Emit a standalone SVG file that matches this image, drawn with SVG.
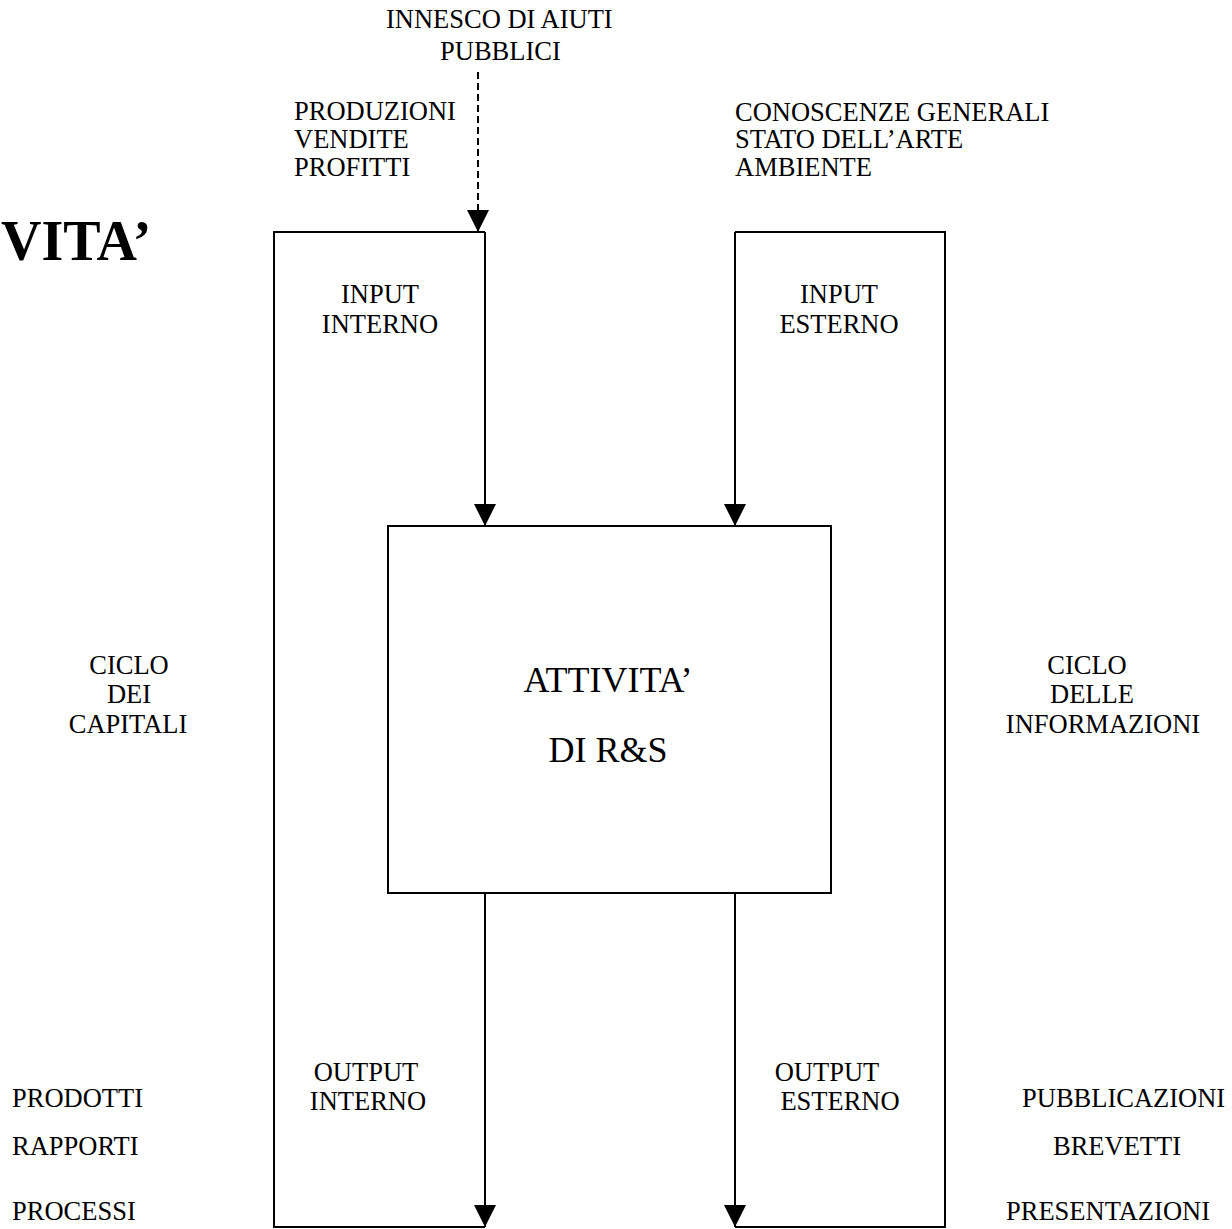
<svg xmlns="http://www.w3.org/2000/svg" width="1232" height="1229" viewBox="0 0 1232 1229">
<style>
text{font-family:"Liberation Serif","Times New Roman",serif;font-size:26.5px;fill:#000}
.big{font-size:36px}
.title{font-size:56px;font-weight:bold}
.ln{fill:none;stroke:#000;stroke-width:2}
.dash{stroke-dasharray:7,4}
</style>
<defs>
<marker id="ah" markerUnits="userSpaceOnUse" markerWidth="22" markerHeight="22" viewBox="0 0 20 20" refX="20" refY="10" orient="auto">
<path d="M0,0 L20,10 L0,20 Z" fill="#000"/>
</marker>
</defs>
<rect width="1232" height="1229" fill="#fff"/>
<text class="title" x="1" y="260">VITA’</text>
<g id="connectors">
<polyline class="ln" points="485,232 274,232 274,1227 485,1227"/>
<polyline class="ln" points="735,232 945,232 945,1227 735,1227"/>
<line class="ln dash" x1="478" y1="72" x2="478" y2="232" marker-end="url(#ah)"/>
<line class="ln" x1="485" y1="232" x2="485" y2="526" marker-end="url(#ah)"/>
<line class="ln" x1="735" y1="232" x2="735" y2="526" marker-end="url(#ah)"/>
<line class="ln" x1="485" y1="893" x2="485" y2="1227" marker-end="url(#ah)"/>
<line class="ln" x1="735" y1="893" x2="735" y2="1227" marker-end="url(#ah)"/>
</g>
<g id="rs-box">
<rect class="ln" x="388" y="526" width="443" height="367"/>
<text class="big" x="608" y="692" text-anchor="middle">ATTIVITA’</text>
<text class="big" x="608" y="762" text-anchor="middle">DI R&amp;S</text>
</g>
<g id="innesco">
<text x="386" y="28">INNESCO DI AIUTI</text>
<text x="440" y="60">PUBBLICI</text>
</g>
<g id="produzioni">
<text x="294" y="120">PRODUZIONI</text>
<text x="294" y="148">VENDITE</text>
<text x="294" y="176">PROFITTI</text>
</g>
<g id="conoscenze">
<text x="735" y="121">CONOSCENZE GENERALI</text>
<text x="735" y="148">STATO DELL’ARTE</text>
<text x="735" y="176">AMBIENTE</text>
</g>
<g id="input-interno">
<text x="380" y="303" text-anchor="middle">INPUT</text>
<text x="380" y="333" text-anchor="middle">INTERNO</text>
</g>
<g id="input-esterno">
<text x="839" y="303" text-anchor="middle">INPUT</text>
<text x="839" y="333" text-anchor="middle">ESTERNO</text>
</g>
<g id="ciclo-capitali">
<text x="129" y="674" text-anchor="middle">CICLO</text>
<text x="129" y="703" text-anchor="middle">DEI</text>
<text x="128" y="733" text-anchor="middle">CAPITALI</text>
</g>
<g id="ciclo-informazioni">
<text x="1087" y="674" text-anchor="middle">CICLO</text>
<text x="1092" y="703" text-anchor="middle">DELLE</text>
<text x="1103" y="733" text-anchor="middle">INFORMAZIONI</text>
</g>
<g id="output-interno">
<text x="366" y="1081" text-anchor="middle">OUTPUT</text>
<text x="368" y="1110" text-anchor="middle">INTERNO</text>
</g>
<g id="output-esterno">
<text x="827" y="1081" text-anchor="middle">OUTPUT</text>
<text x="840" y="1110" text-anchor="middle">ESTERNO</text>
</g>
<g id="output-left">
<text x="12" y="1107">PRODOTTI</text>
<text x="12" y="1155">RAPPORTI</text>
<text x="12" y="1220">PROCESSI</text>
</g>
<g id="output-right">
<text x="1022" y="1107">PUBBLICAZIONI</text>
<text x="1053" y="1155">BREVETTI</text>
<text x="1006" y="1220">PRESENTAZIONI</text>
</g>
</svg>
